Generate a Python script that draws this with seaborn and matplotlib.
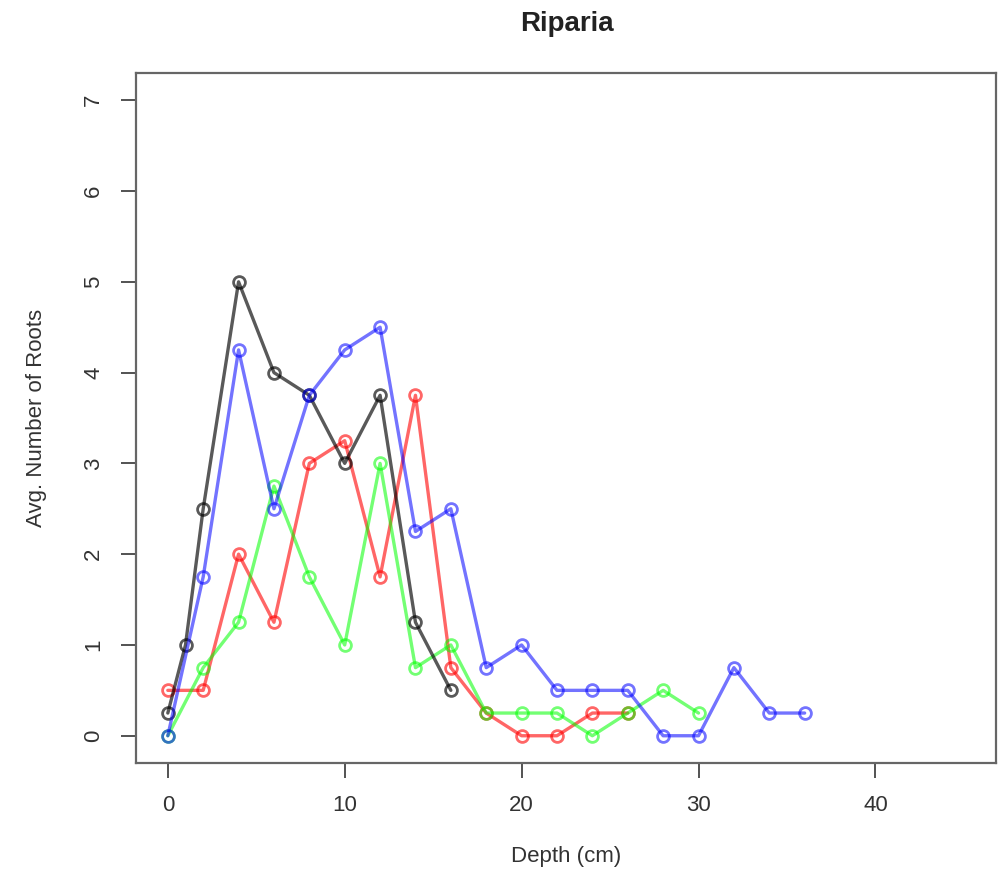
import pandas as pd
import seaborn as sns
from matplotlib import pyplot as plt

# depth (cm) and average number of roots per series
black_depth = [0, 1, 2, 4, 6, 8, 10, 12, 14, 16]
black_roots = [0.25, 1, 2.5, 5, 4, 3.75, 3, 3.75, 1.25, 0.5]

red_depth = [0, 2, 4, 6, 8, 10, 12, 14, 16, 18, 20, 22, 24, 26]
red_roots = [0.5, 0.5, 2, 1.25, 3, 3.25, 1.75, 3.75, 0.75, 0.25, 0, 0, 0.25, 0.25]

green_depth = [0, 2, 4, 6, 8, 10, 12, 14, 16, 18, 20, 22, 24, 26, 28, 30]
green_roots = [0, 0.75, 1.25, 2.75, 1.75, 1, 3, 0.75, 1, 0.25, 0.25, 0.25, 0, 0.25, 0.5, 0.25]

blue_depth = [0, 2, 4, 6, 8, 10, 12, 14, 16, 18, 20, 22, 24, 26, 28, 30, 32, 34, 36]
blue_roots = [0, 1.75, 4.25, 2.5, 3.75, 4.25, 4.5, 2.25, 2.5, 0.75, 1, 0.5, 0.5, 0.5, 0, 0, 0.75, 0.25, 0.25]

x_ticks = [0, 10, 20, 30, 40]
y_ticks = [0, 1, 2, 3, 4, 5, 6, 7]

sns.set_style("white")
plt.rcParams['font.family'] = ['Liberation Sans', 'DejaVu Sans']

fig = plt.figure(figsize=(10.02, 8.69), dpi=100)
ax = fig.add_axes([0.1357, 0.122, 0.858, 0.794])

series = [
    (red_depth, red_roots, (1, 0, 0, 0.6)),
    (green_depth, green_roots, (0, 1, 0, 0.55)),
    (black_depth, black_roots, (0, 0, 0, 0.65)),
    (blue_depth, blue_roots, (0, 0, 1, 0.55)),
]
for depth, roots, col in series:
    df = pd.DataFrame({"depth": depth, "roots": roots})
    sns.lineplot(data=df, x="depth", y="roots", ax=ax, color=col[:3], alpha=col[3],
                 linewidth=2.4, marker="o", markersize=8.5, markerfacecolor="none",
                 markeredgecolor=col[:3], markeredgewidth=2.0)

ax.set_xlim(-1.8, 46.8)
ax.set_ylim(-0.3, 7.3)
ax.set_xticks(x_ticks)
ax.set_yticks(y_ticks)
ax.set_yticklabels([str(v) for v in y_ticks], rotation=90, va="center")
ax.tick_params(axis="both", direction="out", length=11, width=1.3, colors="#444444",
               labelsize=16, labelcolor="#333333", pad=12, left=True, bottom=True)
for s in ax.spines.values():
    s.set_color("#666666")
    s.set_linewidth(1.6)

ax.set_xlabel("Depth (cm)", fontsize=16, color="#333333", labelpad=22)
ax.set_ylabel("Avg. Number of Roots", fontsize=16, color="#333333", labelpad=26)
fig.text(0.566, 0.972, "Riparia", ha="center", va="center", fontsize=20, fontweight="bold", color="#222222")

fig.savefig("out.png", dpi=100)
